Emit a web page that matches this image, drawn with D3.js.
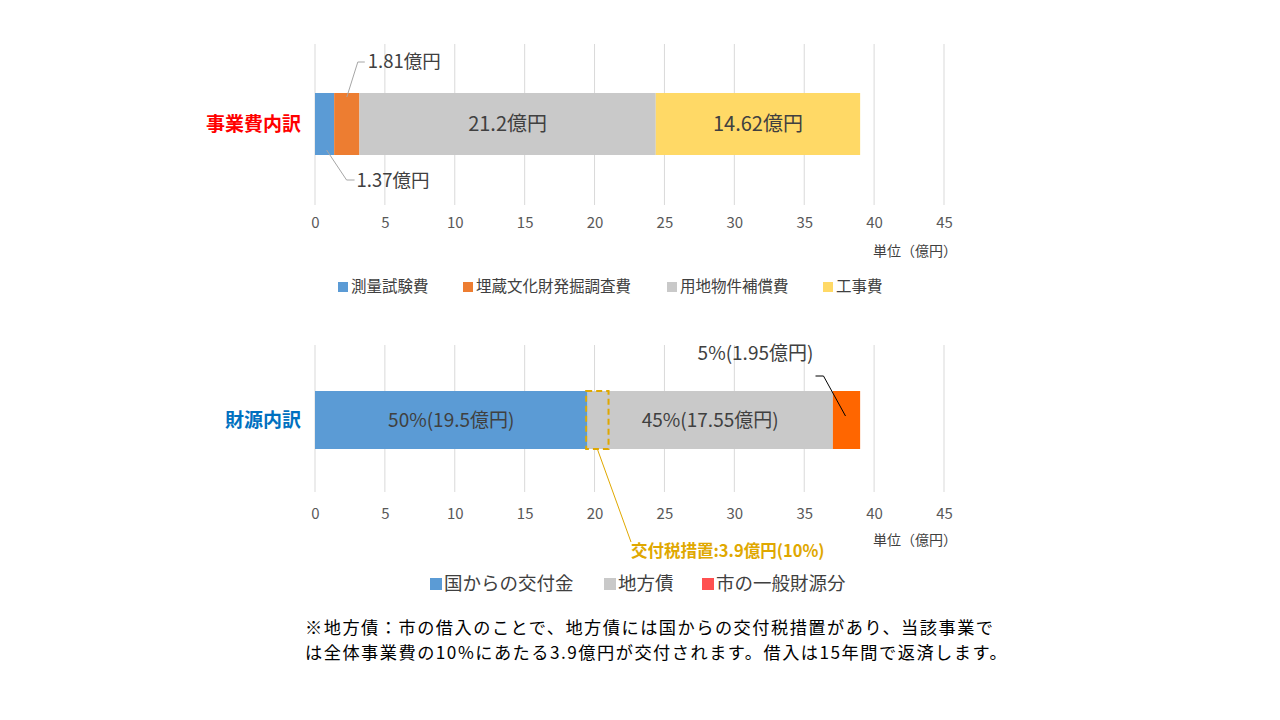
<!DOCTYPE html>
<html><head><meta charset="utf-8">
<script src="https://cdn.jsdelivr.net/npm/d3@7"></script>
<style>
body{margin:0;background:#fff;}
text{font-family:"Noto Sans CJK JP","Noto Sans",sans-serif;}
</style></head><body>
<svg id="c" width="1280" height="720"></svg>
<script>
// ---- data ----
const ticks = [0,5,10,15,20,25,30,35,40,45];
const costCats = ["測量試験費","埋蔵文化財発掘調査費","用地物件補償費","工事費"];
const costVals = [1.37,1.81,21.2,14.62];
const costLabels = ["1.37億円","1.81億円","21.2億円","14.62億円"];
const costColors = ["#5B9BD5","#ED7D31","#C9C9C9","#FFD966"];
const fundCats = ["国からの交付金","地方債","市の一般財源分"];
const fundVals = [19.5,17.55,1.95];
const fundLabels = ["50%(19.5億円)","45%(17.55億円)","5%(1.95億円)"];
const fundColors = ["#5B9BD5","#C9C9C9","#FF6600"];
const fundLegendColors = ["#5B9BD5","#C9C9C9","#FF5050"];
const taxMeasure = {label:"交付税措置:3.9億円(10%)", start:19.4, end:21.0};
const note = ["※地方債：市の借入のことで、地方債には国からの交付税措置があり、当該事業で",
              "は全体事業費の10%にあたる3.9億円が交付されます。借入は15年間で返済します。"];

const svg = d3.select("#c");
const x = d3.scaleLinear().domain([0,45]).range([315,944]);

function stack(vals){let s=0;return vals.map(v=>{const o={x0:s,x1:s+v};s+=v;return o;});}

function panel(cfg){
  const g = svg.append("g");
  g.selectAll("line.grid").data(ticks).join("line")
    .attr("x1",d=>x(d)).attr("x2",d=>x(d))
    .attr("y1",cfg.gTop).attr("y2",cfg.gBot)
    .attr("stroke","#D9D9D9").attr("stroke-width",1);
  const ax = d3.axisBottom(x).tickValues(ticks).tickSize(0).tickPadding(0);
  const axg = g.append("g").attr("transform",`translate(0,${cfg.tickY})`).call(ax);
  axg.select(".domain").remove();
  axg.selectAll("text").attr("font-size",15).attr("fill","#595959")
     .attr("dy","0.35em").attr("font-family","'Noto Sans CJK JP',sans-serif");
  const st = stack(cfg.vals);
  g.selectAll("rect.bar").data(st).join("rect")
    .attr("x",d=>x(d.x0)).attr("width",d=>x(d.x1)-x(d.x0))
    .attr("y",cfg.bTop).attr("height",cfg.bBot-cfg.bTop)
    .attr("fill",(d,i)=>cfg.colors[i]);
  g.append("text").attr("x",301).attr("y",(cfg.bTop+cfg.bBot)/2).attr("dy","0.35em")
    .attr("text-anchor","end").attr("font-size",19).attr("font-weight","bold")
    .attr("fill",cfg.catColor).text(cfg.cat);
  g.append("text").attr("x",957).attr("y",cfg.unitY).attr("dy","0.35em")
    .attr("text-anchor","end").attr("font-size",14).attr("fill","#404040").text("単位（億円）");
  return {g,st};
}

// ---- top panel ----
const pTop = panel({gTop:44,gBot:205,tickY:223,bTop:93,bBot:155,vals:costVals,colors:costColors,
  cat:"事業費内訳",catColor:"#FF0000",unitY:251});
[2,3].forEach(i=>{
  const d=pTop.st[i];
  pTop.g.append("text").attr("x",x((d.x0+d.x1)/2)).attr("y",124).attr("dy","0.35em")
   .attr("text-anchor","middle").attr("font-size",20).attr("fill","#404040").text(costLabels[i]);
});
{
  const d=pTop.st[1], cx=x((d.x0+d.x1)/2);
  pTop.g.append("polyline").attr("points",`${cx},97 ${cx+11},62 ${cx+18},62`)
    .attr("fill","none").attr("stroke","#A6A6A6").attr("stroke-width",1);
  pTop.g.append("text").attr("x",cx+21).attr("y",62).attr("dy","0.35em")
    .attr("font-size",18.5).attr("fill","#404040").text(costLabels[1]);
}
{
  const d=pTop.st[0], cx=x((d.x0+d.x1)/2);
  pTop.g.append("polyline").attr("points",`${cx+2},150 ${cx+22},180 ${cx+30},180`)
    .attr("fill","none").attr("stroke","#A6A6A6").attr("stroke-width",1);
  pTop.g.append("text").attr("x",cx+32).attr("y",181).attr("dy","0.35em")
    .attr("font-size",18.5).attr("fill","#404040").text(costLabels[0]);
}
const lgPos=[338,463,667,823];
costCats.forEach((c,i)=>{
  svg.append("rect").attr("x",lgPos[i]).attr("y",282).attr("width",10).attr("height",10).attr("fill",costColors[i]);
  svg.append("text").attr("x",lgPos[i]+13).attr("y",287).attr("dy","0.35em")
    .attr("font-size",15.5).attr("fill","#404040").text(c);
});

// ---- bottom panel ----
const pBot = panel({gTop:345,gBot:492,tickY:514,bTop:391,bBot:449,vals:fundVals,colors:fundColors,
  cat:"財源内訳",catColor:"#0070C0",unitY:540});
[0,1].forEach(i=>{
  const d=pBot.st[i];
  pBot.g.append("text").attr("x",x((d.x0+d.x1)/2)).attr("y",420).attr("dy","0.35em")
   .attr("text-anchor","middle").attr("font-size",19).attr("fill","#404040").text(fundLabels[i]);
});
{
  const d=pBot.st[2], cx=x((d.x0+d.x1)/2);
  pBot.g.append("polyline").attr("points",`${cx-1},416 ${cx-23},376 ${cx-31},376`)
    .attr("fill","none").attr("stroke","#000").attr("stroke-width",1);
  pBot.g.append("text").attr("x",cx-91).attr("y",353).attr("dy","0.35em")
    .attr("text-anchor","middle").attr("font-size",19).attr("fill","#404040").text(fundLabels[2]);
}
{
  const x0=x(taxMeasure.start), x1=x(taxMeasure.end);
  pBot.g.append("rect").attr("x",x0).attr("y",391).attr("width",x1-x0).attr("height",58)
    .attr("fill","none").attr("stroke","#E0A800").attr("stroke-width",2).attr("stroke-dasharray","6,4");
  pBot.g.append("line").attr("x1",(x0+x1)/2).attr("y1",449).attr("x2",631).attr("y2",542)
    .attr("stroke","#E0A800").attr("stroke-width",1);
  pBot.g.append("text").attr("x",631).attr("y",551).attr("dy","0.35em")
    .attr("font-size",16.5).attr("font-weight","bold").attr("fill","#E0A800").text(taxMeasure.label);
}
const lg2=[430,604,702];
fundCats.forEach((c,i)=>{
  svg.append("rect").attr("x",lg2[i]).attr("y",578).attr("width",12).attr("height",12).attr("fill",fundLegendColors[i]);
  svg.append("text").attr("x",lg2[i]+14).attr("y",584).attr("dy","0.35em")
    .attr("font-size",18.5).attr("fill","#404040").text(c);
});

note.forEach((t,i)=>{
  svg.append("text").attr("x",305).attr("y",628+i*25).attr("dy","0.35em")
    .attr("font-size",17.2).attr("letter-spacing",1.5).attr("fill","#000").text(t);
});
</script>
</body></html>
